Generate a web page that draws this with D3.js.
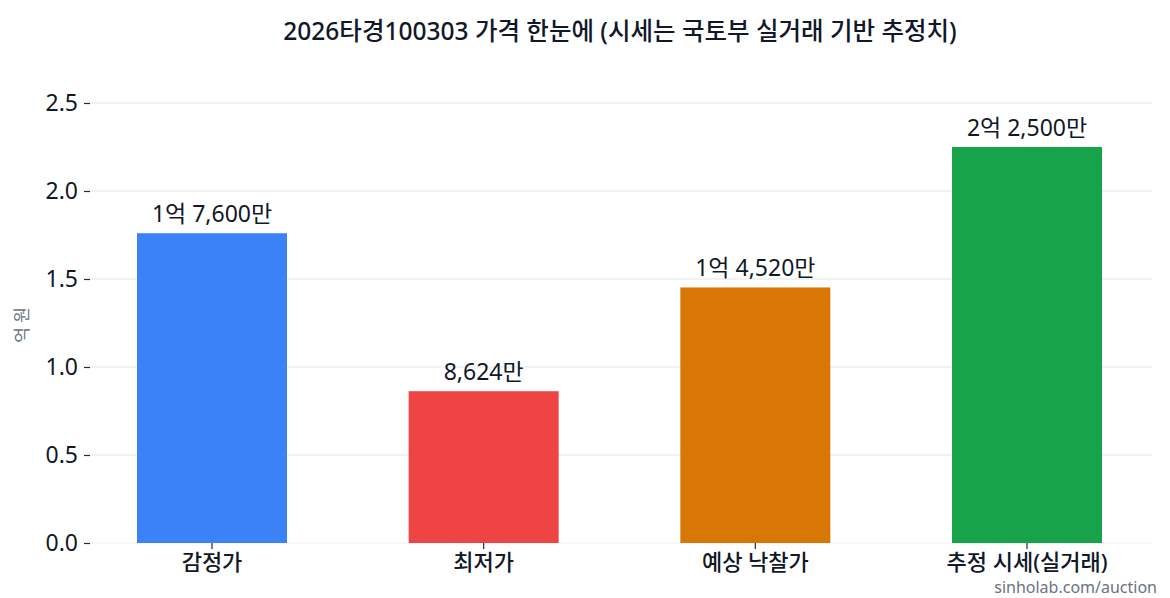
<!DOCTYPE html>
<html>
<head>
<meta charset="utf-8">
<script src="https://cdn.jsdelivr.net/npm/d3@7"></script>
<style>
  body { margin: 0; background: #fff; }
  text { font-family: "Noto Sans", "Noto Sans CJK KR", sans-serif; }
</style>
</head>
<body>
<div id="chart"></div>
<script>
const categories = ["감정가", "최저가", "예상 낙찰가", "추정 시세(실거래)"];
const values = [1.76, 0.8624, 1.452, 2.25];
const valueLabels = ["1억 7,600만", "8,624만", "1억 4,520만", "2억 2,500만"];
const colors = ["#3b82f6", "#ef4444", "#d97706", "#16a34a"];
const yTicks = [0, 0.5, 1.0, 1.5, 2.0, 2.5];

const W = 1170, H = 598;
const plot = { left: 90, right: 1152, top: 103, bottom: 543 };

const svg = d3.select("#chart").append("svg")
  .attr("width", W).attr("height", H);

// Band scale spans a bit beyond the plot area, like matplotlib's xlim
const step = 271.67;
const x = d3.scaleBand()
  .domain(categories)
  .range([212 - step / 2, 212 + step * 3.5])
  .paddingInner(1 - 150 / step)
  .paddingOuter((1 - 150 / step) / 2);

const y = d3.scaleLinear().domain([0, 2.5]).range([plot.bottom, plot.top]);

// Grid lines
svg.append("g")
  .selectAll("line")
  .data(yTicks)
  .enter()
  .append("line")
  .attr("x1", plot.left).attr("x2", plot.right)
  .attr("y1", (d) => y(d)).attr("y2", (d) => y(d))
  .attr("stroke", (d) => (d === 0 ? "#f1f2f4" : "#e3e5e8"))
  .attr("stroke-width", 1.2);

// Y axis
const yAxis = svg.append("g")
  .attr("transform", `translate(${plot.left},0)`)
  .call(d3.axisLeft(y).tickValues(yTicks).tickFormat(d3.format(".1f")).tickSize(6).tickPadding(6));
yAxis.select(".domain").remove();
yAxis.selectAll(".tick line").attr("stroke", "#1f2937").attr("stroke-width", 1.2);
yAxis.selectAll(".tick text").attr("fill", "#111827").style("font-size", "23px");

// Bars
svg.append("g")
  .selectAll("rect")
  .data(categories)
  .enter()
  .append("rect")
  .attr("x", (d) => x(d))
  .attr("width", x.bandwidth())
  .attr("y", (d, i) => y(values[i]))
  .attr("height", (d, i) => y(0) - y(values[i]))
  .attr("fill", (d, i) => colors[i]);

// Value labels
svg.append("g")
  .selectAll("text")
  .data(categories)
  .enter()
  .append("text")
  .attr("x", (d) => x(d) + x.bandwidth() / 2)
  .attr("y", (d, i) => y(values[i]) - 11)
  .attr("text-anchor", "middle")
  .attr("fill", "#111827")
  .style("font-size", "23px")
  .text((d, i) => valueLabels[i]);

// X axis
const xAxis = svg.append("g")
  .attr("transform", `translate(0,${plot.bottom})`)
  .call(d3.axisBottom(x).tickSize(6).tickPadding(5));
xAxis.select(".domain").remove();
xAxis.selectAll(".tick line").attr("stroke", "#1f2937").attr("stroke-width", 1.2);
xAxis.selectAll(".tick text").attr("fill", "#111827").style("font-size", "22px").style("font-weight", "500");

// Y label
svg.append("text")
  .attr("transform", `translate(28,${(plot.top + plot.bottom) / 2 + 2}) rotate(-90)`)
  .attr("text-anchor", "middle")
  .attr("fill", "#6b7280")
  .style("font-size", "17px")
  .text("억 원");

// Title
svg.append("text")
  .attr("x", 620).attr("y", 40)
  .attr("text-anchor", "middle")
  .attr("fill", "#111827")
  .style("font-size", "24.5px")
  .style("font-weight", "500")
  .text("2026타경100303 가격 한눈에 (시세는 국토부 실거래 기반 추정치)");

// Watermark
svg.append("text")
  .attr("x", 1157).attr("y", 593)
  .attr("text-anchor", "end")
  .attr("fill", "#6b7280")
  .style("font-size", "16px")
  .text("sinholab.com/auction");
</script>
</body>
</html>
